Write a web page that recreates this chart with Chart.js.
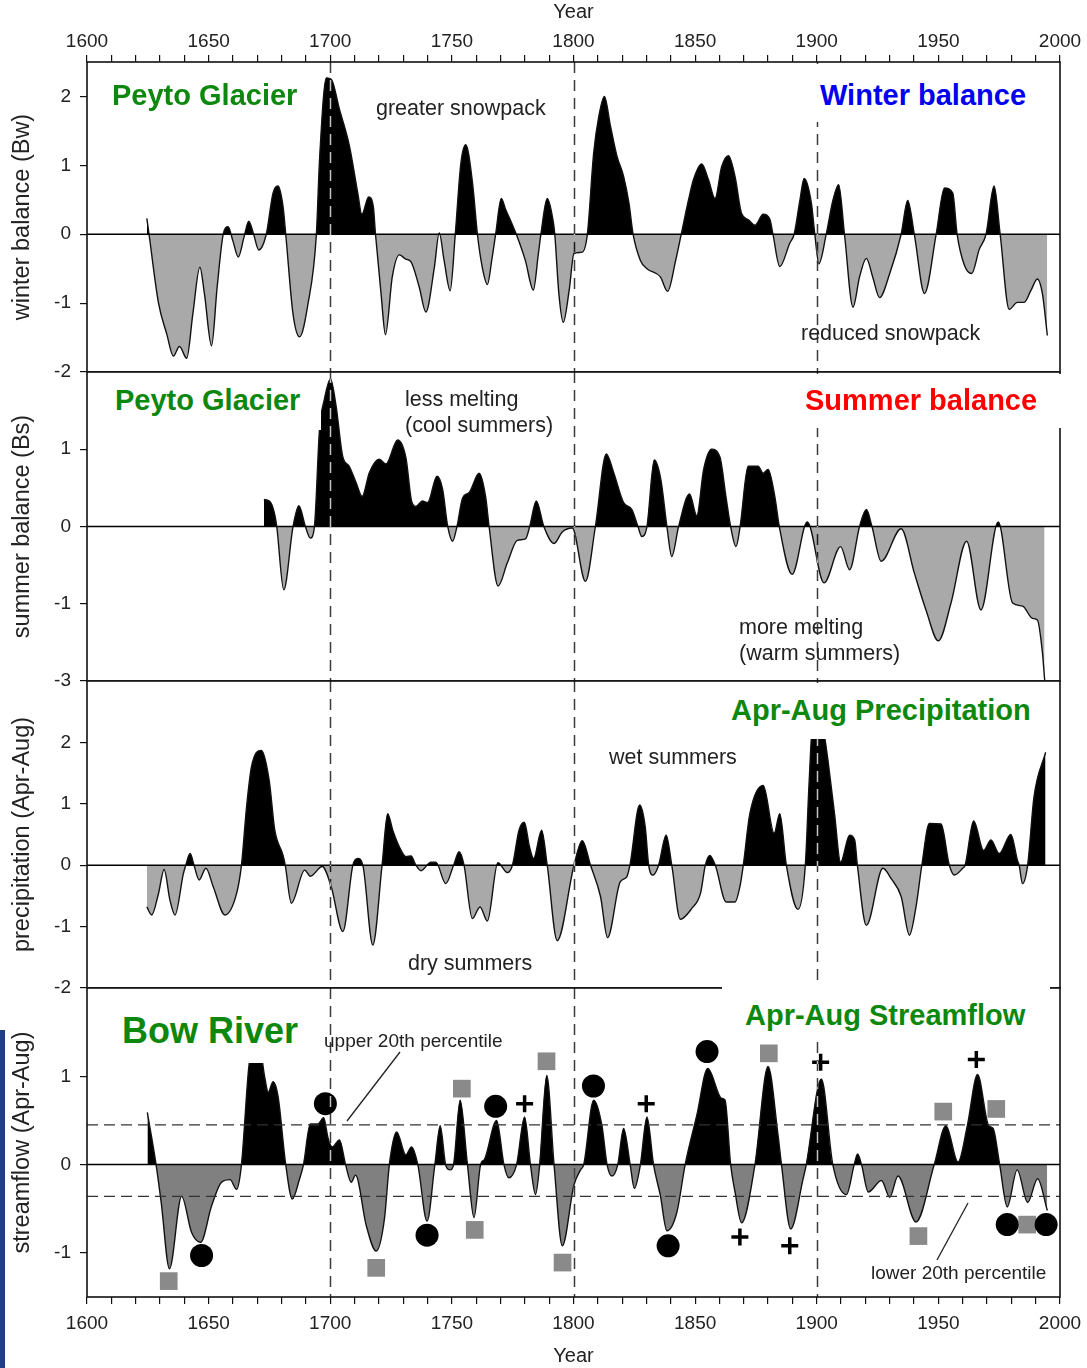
<!DOCTYPE html>
<html>
<head>
<meta charset="utf-8">
<script src="https://cdn.jsdelivr.net/npm/chart.js@4.4.1/dist/chart.umd.min.js"></script>
<style>
  html, body { margin: 0; padding: 0; background: #fff; }
  #page { position: relative; width: 1087px; height: 1368px; overflow: hidden;
          font-family: "Liberation Sans", Arial, Helvetica, sans-serif; }
  canvas { position: absolute; left: 0; }
  .box { position: absolute; background: #fff; }
  .t { position: absolute; white-space: nowrap; line-height: 1; color: #222; font-size: 21.5px; }
  .h { font-weight: bold; font-size: 29px; color: #0d870d; }
  .small { font-size: 19px; }
  #bar { position: absolute; left: 0; top: 1030px; width: 5px; height: 338px; background: #213f7c; }
  svg { position: absolute; left: 0; top: 0; }
</style>
</head>
<body>
<div id="page">
  <canvas id="c1" width="1087" height="394" style="top:0px"></canvas>
  <canvas id="c2" width="1087" height="353" style="top:350px"></canvas>
  <canvas id="c3" width="1087" height="351" style="top:659px"></canvas>
  <canvas id="c4" width="1087" height="402" style="top:966px"></canvas>

  <!-- white label boxes that sit over the plots -->
  <div class="box" style="left:805px;top:64px;width:253px;height:58px"></div>
  <div class="box" style="left:88px;top:374px;width:233px;height:56px"></div>
  <div class="box" style="left:795px;top:374px;width:268px;height:54px"></div>
  <div class="box" style="left:722px;top:683px;width:336px;height:56px"></div>
  <div class="box" style="left:88px;top:990px;width:230px;height:73px"></div>
  <div class="box" style="left:722px;top:986px;width:328px;height:56px"></div>

  <div class="t h" style="left:112px;top:81px">Peyto Glacier</div>
  <div class="t" style="left:376px;top:98px">greater snowpack</div>
  <div class="t h" style="left:820px;top:81px;color:#0000ee">Winter balance</div>
  <div class="t" style="left:801px;top:323px">reduced snowpack</div>

  <div class="t h" style="left:115px;top:386px">Peyto Glacier</div>
  <div class="t" style="left:405px;top:389px">less melting</div>
  <div class="t" style="left:405px;top:415px">(cool summers)</div>
  <div class="t h" style="left:805px;top:386px;color:#ff0000">Summer balance</div>
  <div class="t" style="left:739px;top:617px">more melting</div>
  <div class="t" style="left:739px;top:643px">(warm summers)</div>

  <div class="t h" style="left:731px;top:696px">Apr-Aug Precipitation</div>
  <div class="t" style="left:609px;top:747px">wet summers</div>
  <div class="t" style="left:408px;top:953px">dry summers</div>

  <div class="t h" style="left:122px;top:1013px;font-size:36px">Bow River</div>
  <div class="t small" style="left:324px;top:1031px">upper 20th percentile</div>
  <div class="t h" style="left:745px;top:1001px">Apr-Aug Streamflow</div>
  <div class="t small" style="left:871px;top:1263px">lower 20th percentile</div>

  <svg width="1087" height="1368">
    <line x1="400" y1="1052" x2="347" y2="1121" stroke="#222" stroke-width="1.3"/>
    <line x1="968" y1="1203" x2="937" y2="1260" stroke="#222" stroke-width="1.3"/>
  </svg>
  <div id="bar"></div>
</div>

<script>
// ---- data ----
const winterYears = [
  1624.6, 1625.5, 1629.4, 1632.8, 1635.5, 1638, 1641, 1643.5, 1646.4, 1648.3,
  1651.2, 1653.5, 1656, 1658, 1660, 1662.2, 1664.5, 1666.5, 1668.5, 1670.6,
  1673.7, 1676.5, 1678.5, 1680.6, 1681.7, 1684.7, 1687.4, 1690.8, 1694.3, 1695.6,
  1698.4, 1700.4, 1703.8, 1707.9, 1711.3, 1713, 1715.8, 1717.7, 1718.6, 1720.9,
  1722.7, 1725.5, 1728.4, 1731, 1733.2, 1736.6, 1739.3, 1742.8, 1744.8, 1746.8,
  1749.3, 1751.4, 1753.7, 1755.7, 1758.5, 1760.5, 1762.5, 1764.6, 1766.5, 1768,
  1770.3, 1772.2, 1774, 1776.8, 1780.2, 1783.5, 1785.5, 1786.6, 1789.2, 1791.6,
  1792.3, 1794, 1795.8, 1798.2, 1800.2, 1803.6, 1805.7, 1808.3, 1810.4, 1812.7,
  1815.2, 1817.9, 1820.6, 1822.8, 1824.5, 1827.5, 1830.2, 1835.7, 1838.7, 1842,
  1844.3, 1847.3, 1849.3, 1852.7, 1855.5, 1858.2, 1860.9, 1863.7, 1866.4, 1869.1,
  1871.9, 1874.6, 1878, 1880.7, 1882, 1884.8, 1888.9, 1890.7, 1893.1, 1894.8,
  1897.8, 1899.2, 1900.9, 1903.9, 1906.7, 1909, 1911.4, 1914.9, 1917.6, 1920.4,
  1923, 1925.8, 1930, 1934.7, 1937.4, 1940.1, 1944.3, 1949.1, 1952.5, 1955.9,
  1957.7, 1960.7, 1963.7, 1966.8, 1969.6, 1972.9, 1975.4, 1979.1, 1982.5, 1985.2,
  1988, 1990.7, 1992.8, 1994.8
];
const winterValues = [
  0.23, 0, -1.0, -1.45, -1.77, -1.63, -1.80, -1.16, -0.48, -0.87,
  -1.62, -0.77, 0, 0.11, -0.1, -0.33, -0.05, 0.19, 0, -0.23,
  0, 0.6, 0.7, 0.4, 0, -1.16, -1.49, -1.02, 0, 1.08,
  2.27, 2.25, 1.81, 1.28, 0.6, 0.29, 0.54, 0.4, 0, -0.87,
  -1.46, -0.62, -0.3, -0.36, -0.4, -0.77, -1.13, -0.48, 0.02, -0.38,
  -0.82, 0, 1.03, 1.3, 0.74, 0, -0.48, -0.73, -0.35, 0,
  0.52, 0.35, 0.21, -0.03, -0.38, -0.81, -0.3, 0, 0.52, 0.2,
  0, -0.87, -1.28, -0.82, -0.28, -0.26, 0, 1.18, 1.71, 2.0,
  1.57, 1.13, 0.84, 0.45, 0, -0.38, -0.5, -0.62, -0.83, -0.38,
  0, 0.5, 0.79, 1.02, 0.79, 0.52, 0.98, 1.14, 0.84, 0.3,
  0.21, 0.13, 0.29, 0.22, 0, -0.47, -0.13, 0, 0.5, 0.81,
  0.45, 0, -0.43, 0, 0.5, 0.72, 0, -1.06, -0.62, -0.35,
  -0.62, -0.92, -0.57, 0, 0.49, 0, -0.86, 0, 0.67, 0.6,
  0, -0.45, -0.57, -0.22, 0, 0.7, 0, -1.09, -0.99, -0.99,
  -0.82, -0.65, -0.87, -1.47
];

const summerYears = [
  1672.7, 1675, 1677, 1678, 1680.9, 1684.7, 1687.1, 1689.8, 1691.8, 1693.5,
  1695.6, 1697.6, 1700.1, 1702.4, 1705.1, 1707.8, 1710.6, 1713.1, 1716.1, 1720.2,
  1722.9, 1727.7, 1731.1, 1733.5, 1735.2, 1737.9, 1740, 1743.9, 1746.2, 1748.3,
  1750.3, 1752.1, 1754.4, 1757.1, 1761.2, 1763.9, 1765.3, 1769, 1772.8, 1776.9,
  1780.3, 1782, 1784.7, 1787.8, 1792, 1795.4, 1799.5, 1804.9, 1809, 1813.5,
  1816.5, 1820.6, 1824, 1826.5, 1828.1, 1830.2, 1833.2, 1835.9, 1838.4, 1840.4,
  1843.2, 1847.7, 1850.7, 1853.5, 1856.8, 1860.2, 1862.7, 1864.6, 1866.8, 1868.5,
  1871.8, 1875.9, 1878, 1880, 1882.8, 1884.6, 1889.9, 1896.1, 1903, 1909.8,
  1913.5, 1917.6, 1920.4, 1922.7, 1926.5, 1934.7, 1940.1, 1944.9, 1950, 1955.2,
  1961.6, 1967.5, 1974.6, 1980.5, 1984.6, 1988.7, 1990.7, 1992.8, 1993.7
];
const summerValues = [
  0.35, 0.33, 0.18, 0, -0.82, 0, 0.27, 0, -0.15, 0,
  1.26, 1.65, 1.91, 1.56, 0.91, 0.78, 0.57, 0.39, 0.70, 0.87,
  0.81, 1.12, 0.89, 0.32, 0.26, 0.33, 0.31, 0.65, 0.48, 0,
  -0.19, 0, 0.37, 0.44, 0.69, 0.38, 0, -0.77, -0.47, -0.18,
  -0.16, 0, 0.33, 0, -0.22, -0.07, -0.02, -0.71, 0, 0.94,
  0.70, 0.31, 0.22, 0, -0.13, 0, 0.86, 0.61, 0, -0.39,
  0, 0.42, 0.14, 0.74, 1.0, 0.9, 0.38, 0, -0.26, 0,
  0.78, 0.78, 0.69, 0.74, 0.38, 0, -0.62, 0.06, -0.73, -0.26,
  -0.56, 0, 0.22, 0, -0.45, -0.03, -0.60, -1.08, -1.48, -0.99,
  -0.19, -1.08, 0.06, -0.99, -1.03, -1.19, -1.21, -1.64, -1.99
];

const precipYears = [
  1624.6, 1626.6, 1629.4, 1631.7, 1634.1, 1636.2, 1639.6, 1640.6, 1642.4, 1644,
  1646.1, 1648.9, 1651.9, 1656.7, 1661.5, 1663.5, 1665.6, 1667.6, 1671.7, 1674.9,
  1677.2, 1680.6, 1681.5, 1684, 1689.5, 1691.8, 1696.7, 1700.4, 1705.2, 1709.3,
  1711.3, 1713.4, 1717.5, 1721.3, 1723.6, 1725.7, 1728.4, 1731.1, 1733.2, 1735.2,
  1737.3, 1741.4, 1743.4, 1747.5, 1750.7, 1753, 1755, 1758.4, 1761.6, 1764.6,
  1768.9, 1772.8, 1774.9, 1777.6, 1779.8, 1781.9, 1783.6, 1786.9, 1789.2, 1793.3,
  1800.2, 1803.6, 1807, 1811.1, 1814, 1819.2, 1821.9, 1823.2, 1827.2, 1829.5,
  1830.9, 1832.7, 1835, 1838.1, 1840.4, 1843.9, 1848.7, 1852.2, 1854.2, 1856,
  1858.3, 1862.8, 1866.4, 1868.4, 1869.8, 1872.5, 1878, 1882.5, 1884.8, 1887.5,
  1892.3, 1895.3, 1896.9, 1898.5, 1901.5, 1903.2, 1904.6, 1907.3, 1909.8, 1913.5,
  1915.6, 1916.7, 1920.4, 1927.2, 1930.6, 1934.7, 1938.1, 1940.8, 1943.2, 1946.3,
  1951.1, 1954.5, 1956.6, 1960, 1961, 1964.5, 1968.6, 1971.6, 1975, 1979.8,
  1982.5, 1983.2, 1984.6, 1986.7, 1989.3, 1994.1
];
const precipValues = [
  -0.68, -0.81, -0.46, -0.07, -0.57, -0.81, -0.14, 0, 0.19, 0,
  -0.24, -0.05, -0.35, -0.81, -0.46, 0, 0.95, 1.60, 1.87, 1.38,
  0.57, 0.16, 0, -0.62, -0.08, -0.18, -0.02, -0.35, -1.08, 0,
  0.11, 0, -1.30, 0, 0.84, 0.57, 0.3, 0.14, 0.15, 0,
  -0.09, 0.05, 0.05, -0.30, 0, 0.22, 0, -0.87, -0.68, -0.91,
  0.04, -0.12, 0, 0.57, 0.70, 0.30, 0.11, 0.57, 0, -1.23,
  0, 0.40, 0, -0.51, -1.18, -0.27, -0.19, 0, 0.98, 0.62,
  0, -0.16, 0, 0.49, 0, -0.88, -0.70, -0.46, 0, 0.16,
  0, -0.60, -0.60, -0.35, 0, 0.84, 1.30, 0.52, 0.84, 0,
  -0.72, 0, 1.38, 2.4, 2.4, 2.1, 1.71, 0.84, 0.05, 0.49,
  0.41, 0, -0.98, -0.05, -0.22, -0.51, -1.14, -0.68, 0, 0.68,
  0.67, 0, -0.16, -0.05, 0, 0.72, 0.24, 0.41, 0.19, 0.50,
  0.08, 0, -0.30, 0, 1.11, 1.84
];

const flowYears = [
  1624.8, 1628.4, 1630.5, 1633.9, 1638.9, 1643, 1646.7, 1651.2, 1655.3, 1658.8,
  1661.5, 1663.5, 1666.5, 1668.5, 1671, 1673, 1674.5, 1676.5, 1678.5, 1681.7,
  1684.4, 1687.4, 1689, 1691.8, 1694.9, 1697.3, 1699.1, 1700.8, 1703.8, 1706.3,
  1708.6, 1710.4, 1714.8, 1718.9, 1722.3, 1724.3, 1727.3, 1731.1, 1733.4, 1736,
  1739.8, 1743, 1745.2, 1747.5, 1749.3, 1750.7, 1753.4, 1756.4, 1759.1, 1761.8,
  1763.4, 1768.4, 1771.4, 1773.4, 1776.6, 1779.9, 1782.3, 1784.4, 1786.1, 1789,
  1792, 1795.4, 1800.2, 1802.9, 1804.2, 1808.3, 1811.7, 1813.8, 1815.8, 1818.2,
  1820.6, 1823.3, 1825, 1827.5, 1830.2, 1832.9, 1835.7, 1838.4, 1842.5, 1845.9,
  1850.7, 1855.2, 1860.9, 1862.3, 1864.6, 1866.4, 1869.1, 1874.6, 1880, 1884.1,
  1885.5, 1889.3, 1894.4, 1895.7, 1901.9, 1906.6, 1912.2, 1915.4, 1916.8, 1918.4,
  1921.2, 1926.6, 1930, 1933.4, 1940.8, 1948.3, 1953.1, 1958.1, 1961.9, 1966.1,
  1970.7, 1972.5, 1975.2, 1978.3, 1982.4, 1986.7, 1990.8, 1994.8
];
const flowValues = [
  0.59, 0, -0.43, -1.18, -0.36, -0.77, -0.88, -0.47, -0.20, -0.17,
  -0.28, 0, 1.1, 1.4, 1.35, 1.0, 0.82, 0.94, 0.78, 0,
  -0.39, -0.16, 0, 0.46, 0.46, 0.53, 0.30, 0.20, 0.28, 0,
  -0.20, -0.12, -0.69, -0.98, -0.61, 0, 0.37, 0.11, 0.20, 0,
  -0.64, 0, 0.44, -0.01, -0.06, 0, 0.73, 0, -0.60, 0,
  0.06, 0.50, 0, -0.15, 0, 0.54, 0, -0.34, 0, 1.01,
  0, -0.92, -0.23, -0.06, 0, 0.73, 0.44, 0, -0.13, 0,
  0.41, 0, -0.27, 0, 0.54, 0, -0.35, -0.75, -0.54, 0,
  0.56, 1.09, 0.75, 0.73, 0, -0.31, -0.66, 0, 1.11, 0.33,
  0, -0.73, -0.16, 0, 0.97, 0, -0.34, 0, 0.12, 0,
  -0.31, -0.18, -0.37, -0.13, -0.65, 0, 0.44, 0.03, 0.44, 1.02,
  0.44, 0.41, 0, -0.48, -0.06, -0.43, -0.16, -0.52
];

// extreme-year markers on the streamflow panel
const squareYears = [1633.6, 1718.9, 1754.1, 1759.4, 1788.9, 1795.5, 1880.3, 1941.8, 1952, 1973.8, 1986.5];
const squareValues = [-1.32, -1.17, 0.86, -0.74, 1.17, -1.11, 1.26, -0.81, 0.60, 0.63, -0.68];
const circleYears = [1647.1, 1698, 1739.8, 1768, 1808.2, 1838.9, 1854.9, 1978.3, 1994.3];
const circleValues = [-1.03, 0.69, -0.80, 0.66, 0.89, -0.92, 1.28, -0.68, -0.68];
const crossYears = [1779.9, 1829.9, 1868.4, 1888.9, 1901.6, 1965.6];
const crossValues = [0.69, 0.69, -0.82, -0.92, 1.16, 1.19];

// percentile thresholds for streamflow
const percentileLevels = [0.45, -0.36];
const markerYears = [1700, 1800, 1900];

// axis ticks
const winterTicks = [-2, -1, 0, 1, 2];
const winterTickLabels = ['-2', '-1', '0', '1', '2'];
const summerTicks = [-2, -1, 0, 1];
const summerTickLabels = ['-3', '-1', '0', '1'];
const precipTicks = [-2, -1, 0, 1, 2];
const precipTickLabels = ['-2', '-1', '0', '1', '2'];
const flowTicks = [-1, 0, 1];
const flowTickLabels = ['-1', '0', '1'];

Chart.defaults.font.family = '"Liberation Sans", Arial, Helvetica, sans-serif';
Chart.defaults.color = '#222';

function toPoints(xs, ys) {
  return xs.map((x, i) => ({ x: x, y: ys[i] }));
}

function xAxis(display, position, fitHeight, labelPad) {
  return {
    type: 'linear', min: 1600, max: 2000, display: display, position: position,
    afterFit: s => {
      if (fitHeight) s.height = fitHeight;
      // keep every panel's plot area the same width
      s.paddingLeft = 0;
      s.paddingRight = 0;
    },
    ticks: {
      stepSize: 10, maxTicksLimit: 100, autoSkip: false, maxRotation: 0, minRotation: 0,
      padding: labelPad, font: { size: 19 }, color: '#222',
      callback: v => (v % 50 === 0 ? String(v) : '')
    },
    grid: { drawOnChartArea: false, tickLength: 7, color: '#111', lineWidth: 1.2 },
    border: { display: false },
    title: { display: true, text: 'Year', font: { size: 20 }, color: '#222', padding: 0 }
  };
}

function yAxis(min, max, ticks, labels, title) {
  return {
    type: 'linear', min: min, max: max,
    afterBuildTicks: s => { s.ticks = ticks.map(v => ({ value: v })); },
    afterFit: s => { s.width = 87; },
    ticks: {
      padding: 9, font: { size: 19 }, color: '#222',
      callback: (v, i) => labels[i]
    },
    grid: { drawOnChartArea: false, tickLength: 7, color: '#111', lineWidth: 1.2 },
    border: { display: false },
    title: { display: true, text: title, font: { size: 23.5 }, color: '#222', padding: { top: 8, bottom: 0 } }
  };
}

function areaSeries(xs, ys, below) {
  return {
    data: toPoints(xs, ys),
    borderColor: '#111', borderWidth: 1.4,
    pointRadius: 0, pointHoverRadius: 0,
    cubicInterpolationMode: 'monotone',
    fill: { target: 'origin', above: '#000', below: below }
  };
}

// frame, zero line, dashed reference lines
function panelPlugin(levels) {
  return {
    id: 'panelDecor',
    beforeDraw(chart) {
      const { ctx, chartArea: a } = chart;
      ctx.save();
      ctx.fillStyle = '#fff';
      ctx.fillRect(a.left, a.top, a.right - a.left, a.bottom - a.top);
      ctx.restore();
    },
    afterDatasetsDraw(chart) {
      const { ctx, chartArea: a } = chart;
      const x = chart.scales.x, y = chart.scales.y;
      ctx.save();
      ctx.beginPath();
      ctx.rect(a.left, a.top, a.right - a.left, a.bottom - a.top);
      ctx.clip();

      // percentile lines
      ctx.strokeStyle = '#333';
      ctx.lineWidth = 1.3;
      ctx.setLineDash([11, 6]);
      (levels || []).forEach(v => {
        const py = y.getPixelForValue(v);
        ctx.beginPath(); ctx.moveTo(a.left, py); ctx.lineTo(a.right, py); ctx.stroke();
      });

      // zero line
      ctx.setLineDash([]);
      ctx.strokeStyle = '#000';
      ctx.lineWidth = 1.5;
      const zy = y.getPixelForValue(0);
      ctx.beginPath(); ctx.moveTo(a.left, zy); ctx.lineTo(a.right, zy); ctx.stroke();

      // century lines, inverted against the fills
      ctx.globalCompositeOperation = 'difference';
      ctx.strokeStyle = '#c4c4c4';
      ctx.lineWidth = 1.5;
      ctx.setLineDash([11, 7]);
      markerYears.forEach(yr => {
        const px = Math.round(x.getPixelForValue(yr)) + 0.5;
        ctx.beginPath(); ctx.moveTo(px, a.top); ctx.lineTo(px, a.bottom); ctx.stroke();
      });
      ctx.restore();

      ctx.save();
      ctx.strokeStyle = '#111';
      ctx.lineWidth = 1.6;
      ctx.strokeRect(a.left, a.top, a.right - a.left, a.bottom - a.top);
      ctx.restore();
    }
  };
}

function makePanel(id, datasets, yScale, xScale, padding, levels) {
  return new Chart(document.getElementById(id), {
    type: 'line',
    data: { datasets: datasets },
    options: {
      responsive: false,
      animation: false,
      events: [],
      layout: { padding: padding },
      plugins: { legend: { display: false }, tooltip: { enabled: false } },
      scales: { x: xScale, y: yScale }
    },
    plugins: [panelPlugin(levels)]
  });
}

makePanel('c1',
  [areaSeries(winterYears, winterValues, '#a9a9a9')],
  yAxis(-2, 2.5, winterTicks, winterTickLabels, 'winter balance (Bw)'),
  xAxis(true, 'top', 62, 2),
  { left: 0, right: 27, top: 0, bottom: 22 });

makePanel('c2',
  [areaSeries(summerYears, summerValues, '#a9a9a9')],
  yAxis(-2, 2, summerTicks, summerTickLabels, 'summer balance (Bs)'),
  xAxis(false, 'bottom', 0, 2),
  { left: 0, right: 27, top: 22, bottom: 22 });

makePanel('c3',
  [areaSeries(precipYears, precipValues, '#a9a9a9')],
  yAxis(-2, 3, precipTicks, precipTickLabels, 'precipitation (Apr-Aug)'),
  xAxis(false, 'bottom', 0, 2),
  { left: 0, right: 27, top: 22, bottom: 22 });

// markers first so they are painted on top of the area
makePanel('c4',
  [
    { data: toPoints(crossYears, crossValues), showLine: false, pointStyle: 'cross',
      pointRadius: 8.5, borderColor: '#000', pointBorderWidth: 3.5, clip: false },
    { data: toPoints(circleYears, circleValues), showLine: false, pointStyle: 'circle',
      pointRadius: 11.5, backgroundColor: '#000', borderColor: '#000', pointBorderWidth: 0, clip: false },
    { data: toPoints(squareYears, squareValues), showLine: false, pointStyle: 'rect',
      pointRadius: 12.5, backgroundColor: '#8a8a8a', borderColor: '#8a8a8a', pointBorderWidth: 0, clip: false },
    areaSeries(flowYears, flowValues, '#808080')
  ],
  yAxis(-1.5, 2, flowTicks, flowTickLabels, 'streamflow (Apr-Aug)'),
  xAxis(true, 'bottom', 71, 8),
  { left: 0, right: 27, top: 22, bottom: 0 },
  percentileLevels);
</script>
</body>
</html>
